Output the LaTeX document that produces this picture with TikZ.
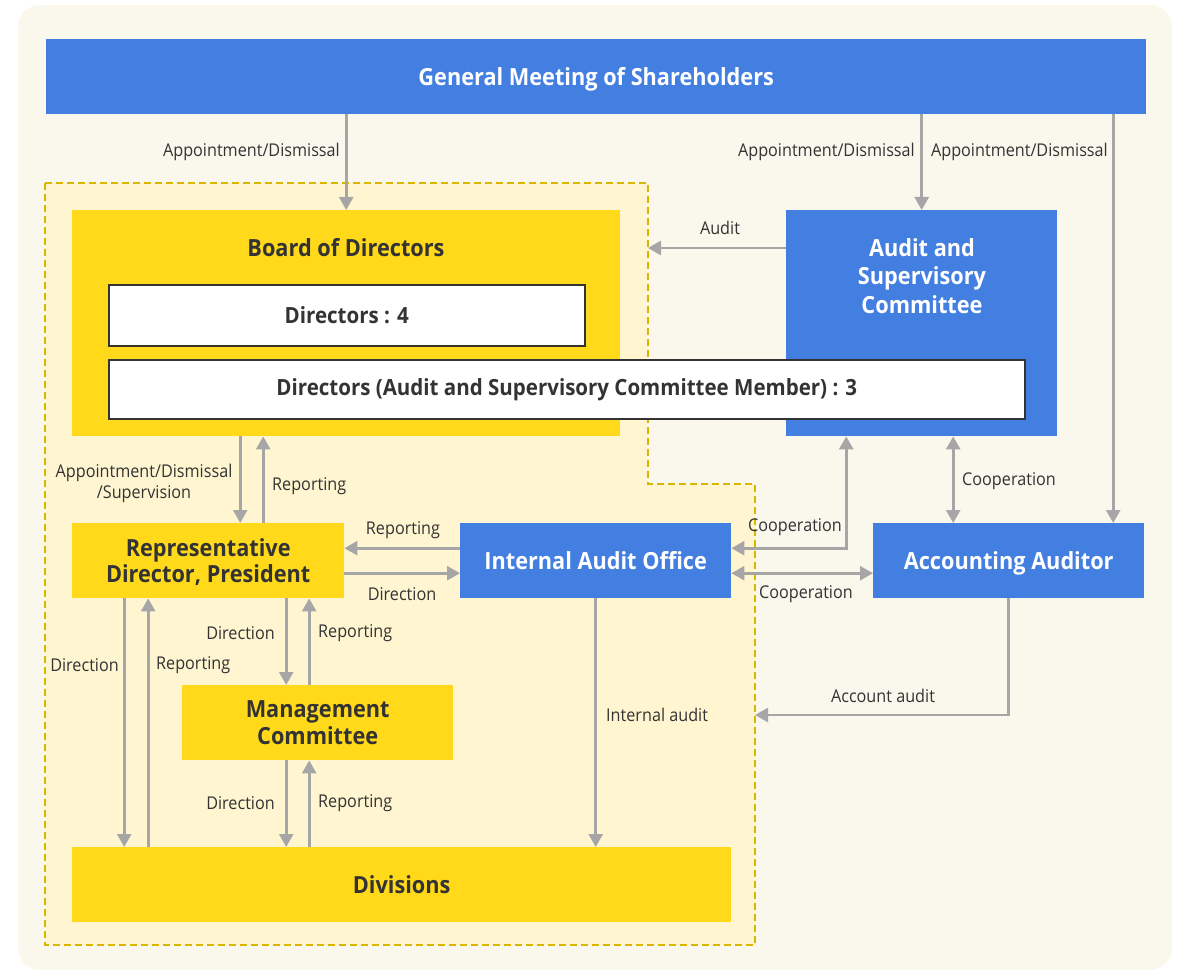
\documentclass[tikz,border=0pt]{standalone}
\usepackage{fontspec}
\setmainfont{Open Sans}[FakeStretch=0.92]
\usetikzlibrary{arrows.meta}
\definecolor{bgc}{HTML}{FAF7EC}
\definecolor{regfill}{HTML}{FFF6D1}
\definecolor{regline}{HTML}{D9B700}
\definecolor{bluec}{HTML}{437FE0}
\definecolor{yellowc}{HTML}{FFD91A}
\definecolor{arrc}{HTML}{A6A6A6}
\definecolor{txtc}{HTML}{333333}
\begin{document}
\begin{tikzpicture}[x=1pt,y=-1pt,
  bluebox/.style={fill=bluec, text=white, font=\bfseries\fontsize{23.6}{27.7}\selectfont, align=center, inner sep=0pt, text depth=0pt, anchor=north west},
  yelbox/.style={fill=yellowc, text=txtc, font=\bfseries\fontsize{23.6}{27.7}\selectfont, align=center, inner sep=0pt, text depth=0pt, anchor=north west},
  whitebox/.style={fill=white, draw=txtc, line width=1.6pt, text=txtc, font=\bfseries\fontsize{22.3}{26}\selectfont, align=center, inner sep=0pt, anchor=north west},
  title/.style={text=txtc, font=\bfseries\fontsize{23.6}{28.3}\selectfont, align=center, inner sep=0pt, text depth=0pt},
  lbl/.style={text=txtc, font=\fontsize{17.6}{20.7}\selectfont, inner sep=0pt, align=center},
  arr/.style={draw=arrc, line width=2.6pt, -{Triangle[length=13pt,width=14pt]}},
  arrb/.style={draw=arrc, line width=2.6pt, {Triangle[length=13pt,width=14pt]}-{Triangle[length=13pt,width=14pt]}}
]
\useasboundingbox (0,0) rectangle (1180,973);
\fill[bgc, rounded corners=22pt] (18,5) rectangle (1172,970);
% dashed region
\draw[fill=regfill, draw=regline, line width=2pt, dash pattern=on 7pt off 4pt]
  (45,183) -- (648,183) -- (648,484) -- (755,484) -- (755,945) -- (45,945) -- cycle;
\coordinate (regAudit) at (648,248);
\coordinate (regAcc) at (755,715);

% nodes
\node[bluebox, minimum width=1100pt, minimum height=75pt] (gm) at (46,39) {General Meeting of Shareholders};
\node[yelbox, minimum width=548pt, minimum height=226pt] (board) at (72,210) {};
\node[title] (boardt) at (346,247.6) {Board of Directors};
\node[bluebox, minimum width=271pt, minimum height=226pt] (asc) at (786,210) {};
\node[title, text=white] (asct) at (922,276) {Audit and\\Supervisory\\Committee};
\node[whitebox, minimum width=476pt, minimum height=61pt] (d4) at (108,284) {Directors : 4};
\node[whitebox, minimum width=916pt, minimum height=59pt] (d3) at (108,359) {Directors (Audit and Supervisory Committee Member) : 3};
\node[yelbox, minimum width=272pt, minimum height=75pt, font=\bfseries\fontsize{23.6}{26}\selectfont] (rep) at (72,523) {Representative\\Director, President};
\node[bluebox, minimum width=271pt, minimum height=75pt] (iao) at (460,523) {Internal Audit Office};
\node[bluebox, minimum width=271pt, minimum height=75pt] (aa) at (873,523) {Accounting Auditor};
\node[yelbox, minimum width=271pt, minimum height=75pt] (mc) at (182,685) {Management\\Committee};
\node[yelbox, minimum width=659pt, minimum height=75pt] (div) at (72,847) {Divisions};

% connectors from GM
\draw[arr] (gm.south -| board.north) -- (board.north);
\node[lbl, anchor=east] (l1) at (340,152) {Appointment/Dismissal};
\draw[arr] (gm.south -| asc.north) -- (asc.north);
\node[lbl, anchor=east] (l2) at (915,152) {Appointment/Dismissal};
\coordinate (aaTop) at ([xshift=104.5pt]aa.north);
\draw[arr] (gm.south -| aaTop) -- (aaTop);
\node[lbl, anchor=east] (l3) at (1108,152) {Appointment/Dismissal};

% audit
\coordinate (ascAud) at (asc.west |- regAudit);
\draw[arr] (ascAud) -- (regAudit);
\node[lbl] (l4) at (720,228) {Audit};

% board <-> rep
\coordinate (repA) at ([xshift=32pt]rep.north);
\coordinate (repB) at ([xshift=55pt]rep.north);
\draw[arr] (board.south -| repA) -- (repA);
\draw[arr] (repB) -- (board.south -| repB);
\node[lbl] (l5) at (144,483.5) {Appointment/Dismissal\\/Supervision};
\node[lbl, anchor=west] (l6) at (272,486) {Reporting};

% rep <-> iao
\coordinate (iaoA) at ([yshift=12.5pt]iao.west);
\coordinate (repC) at ([yshift=-12.5pt]rep.east);
\draw[arr] (iaoA) -- (iaoA -| rep.east);
\draw[arr] (repC) -- (repC -| iao.west);
\node[lbl] (l7) at (403,530) {Reporting};
\node[lbl] (l8) at (402,594) {Direction};

% rep <-> divisions
\coordinate (repD) at ([xshift=-84pt]rep.south);
\coordinate (repE) at ([xshift=-60pt]rep.south);
\draw[arr] (repD) -- (repD |- div.north);
\draw[arr] (repE |- div.north) -- (repE);
\node[lbl, anchor=east] (l9) at (119,665) {Direction};
\node[lbl, anchor=west] (l10) at (156,665) {Reporting};

% rep <-> mc
\coordinate (repF) at ([xshift=78pt]rep.south);
\coordinate (repG) at ([xshift=101pt]rep.south);
\draw[arr] (repF) -- (repF |- mc.north);
\draw[arr] (repG |- mc.north) -- (repG);
\node[lbl, anchor=east] (l11) at (275,633) {Direction};
\node[lbl, anchor=west] (l12) at (318,633) {Reporting};

% mc <-> div
\coordinate (mcA) at (repF |- mc.south);
\coordinate (mcB) at (repG |- mc.south);
\draw[arr] (mcA) -- (mcA |- div.north);
\draw[arr] (mcB |- div.north) -- (mcB);
\node[lbl, anchor=east] (l13) at (275,803) {Direction};
\node[lbl, anchor=west] (l14) at (318,803) {Reporting};

% iao -> div
\draw[arr] (iao.south) -- (iao.south |- div.north);
\node[lbl, anchor=west] (l15) at (606,715) {Internal audit};

% asc <-> aa
\coordinate (ascB) at ([xshift=31.5pt]asc.south);
\draw[arrb] (ascB) -- (ascB |- aa.north);
\node[lbl, anchor=west] (l16) at (962,481) {Cooperation};

% asc <-> iao
\coordinate (ascC) at ([xshift=-75.5pt]asc.south);
\coordinate (iaoB) at ([yshift=12.5pt]iao.east);
\draw[arrb] (ascC) |- (iaoB);
\node[lbl] (l17) at (795,527) {Cooperation};

% iao <-> aa
\coordinate (iaoC) at ([yshift=-12.5pt]iao.east);
\draw[arrb] (iaoC) -- (iaoC -| aa.west);
\node[lbl] (l18) at (806,594) {Cooperation};

% aa -> region
\draw[arr] (aa.south) |- (regAcc);
\node[lbl] (l19) at (883,696) {Account audit};
\end{tikzpicture}
\end{document}
